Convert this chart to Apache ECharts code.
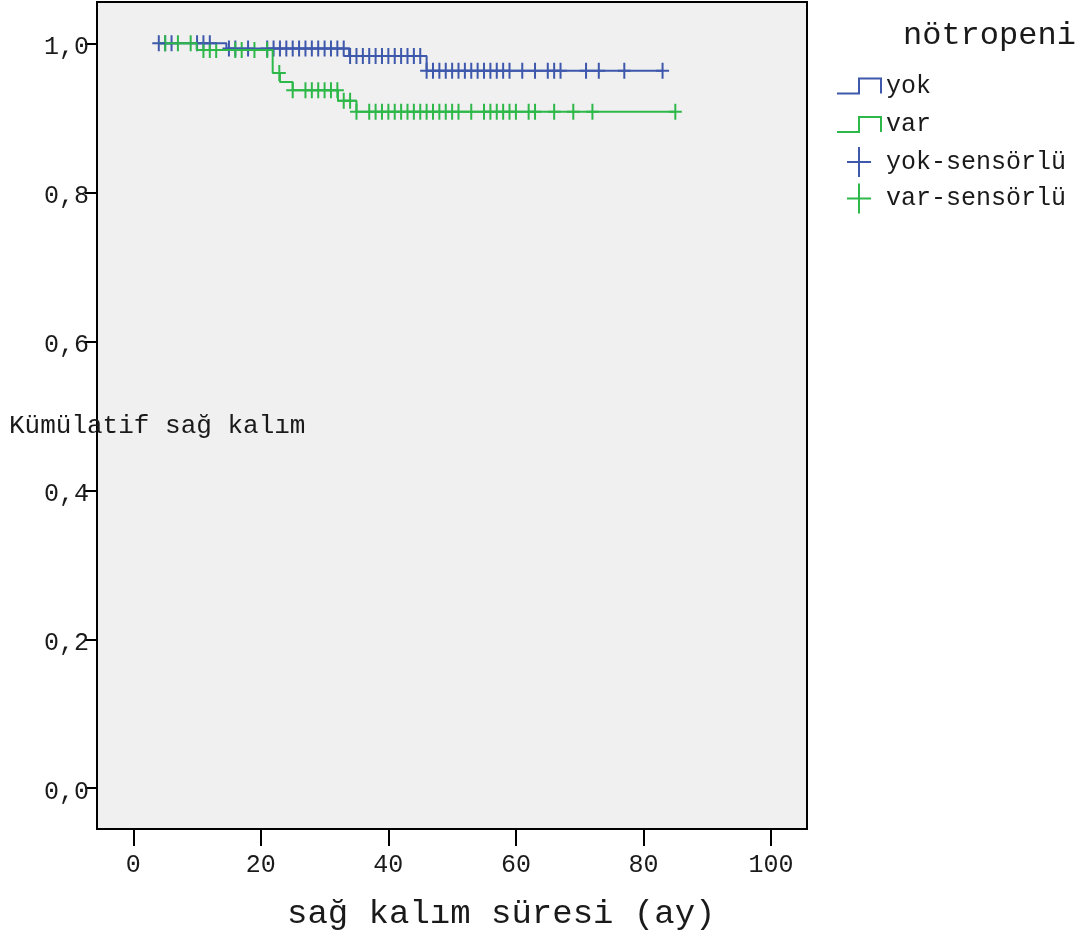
<!DOCTYPE html>
<html>
<head>
<meta charset="utf-8">
<script src="https://cdn.jsdelivr.net/npm/echarts@6.0.0/dist/echarts.min.js"></script>
<style>
html, body { margin: 0; padding: 0; background: #fff; }
#main { width: 1083px; height: 939px; }
</style>
</head>
<body>
<div id="main"></div>
<script>
var groups = ['yok', 'var'];
var censorNames = ['yok-sensörlü', 'var-sensörlü'];
var colors = ['#3e58ac', '#2fb84a'];

// step points of the survival curves: time (months) and cumulative survival
var yokTimes = [4, 14.6, 33.85, 46, 83];
var yokSurv = [1.0, 0.993, 0.983, 0.963, 0.963];
var varTimes = [5, 9.94, 21.86, 23.0, 25.0, 32.1, 35.0, 85];
var varSurv = [1.0, 0.991, 0.960, 0.948, 0.937, 0.923, 0.908, 0.908];

// censored observations (months)
var yokCensored = [4, 5, 6, 10, 11, 12, 15, 16, 18, 21, 22, 23, 24, 25, 26, 27, 28, 29, 30, 31, 32, 33,
  34, 35, 36, 37, 38, 39, 40, 41, 42, 43, 44, 45, 46, 47, 48, 49, 50, 51, 52, 53, 54, 55, 56, 57, 58, 59,
  61, 63, 65, 66, 67, 71, 73, 77, 83];
var varCensored = [5, 7, 9, 11, 12, 13, 16, 17, 19, 21, 22.9, 25, 27, 28, 29, 30, 31, 32, 33, 34, 35,
  37, 38, 39, 40, 41, 42, 43, 44, 45, 46, 47, 48, 49, 50, 51, 53, 55, 56, 57, 58, 59, 60, 62, 63, 66, 69, 72, 85];

var xTicks = [0, 20, 40, 60, 80, 100];
var yTicks = [0, 0.2, 0.4, 0.6, 0.8, 1.0];

var FONT = "'Liberation Mono', 'Courier New', monospace";
// step icon padded with move-to points so its box is as tall as the plus icon
var stepIcon = 'path://M0,-7.5M0,15L22,15L22,0L44,0L44,15M44,22.5';
var plusIcon = 'path://M11,0h2v14h11v2h-11v14h-2v-14h-11v-2h11z';
var markSymbol = 'path://M5.5,0h2v7h5.5v2h-5.5v7h-2v-7h-5.5v-2h5.5z';

function survAt(times, surv, t) {
  var s = surv[0];
  for (var i = 0; i < times.length; i++) {
    if (t >= times[i]) s = surv[i];
  }
  return s;
}

function stepData(times, surv) {
  return times.map(function (t, i) { return [t, surv[i]]; });
}

function censorData(cens, times, surv) {
  return cens.map(function (t) { return [t, survAt(times, surv, t)]; });
}

var chart = echarts.init(document.getElementById('main'));
chart.setOption({
  animation: false,
  backgroundColor: '#fff',
  title: {
    text: 'nötropeni',
    left: 903,
    top: 20,
    padding: 0,
    textStyle: { fontFamily: FONT, fontSize: 32, fontWeight: 'normal', color: '#1a1a1a' }
  },
  legend: {
    orient: 'vertical',
    left: 836,
    top: 70,
    padding: 0,
    itemWidth: 44,
    itemHeight: 30,
    itemGap: 6.5,
    symbolKeepAspect: true,
    textStyle: { fontFamily: FONT, fontSize: 25, color: '#1a1a1a' },
    data: [
      { name: groups[0], icon: stepIcon, itemStyle: { color: 'rgba(0,0,0,0)', borderColor: colors[0], borderWidth: 2 } },
      { name: groups[1], icon: stepIcon, itemStyle: { color: 'rgba(0,0,0,0)', borderColor: colors[1], borderWidth: 2 } },
      { name: censorNames[0], icon: plusIcon },
      { name: censorNames[1], icon: plusIcon }
    ]
  },
  grid: {
    left: 97,
    top: 2,
    width: 710,
    height: 827,
    show: true,
    backgroundColor: '#f0f0f0',
    borderColor: '#000',
    borderWidth: 2
  },
  xAxis: {
    type: 'value',
    min: -5.69,
    max: 105.65,
    axisLine: { show: false, onZero: false },
    splitLine: { show: false },
    axisTick: { show: true, length: 17, customValues: xTicks, lineStyle: { color: '#000', width: 2 } },
    axisLabel: { customValues: xTicks, margin: 24, fontFamily: FONT, fontSize: 25, color: '#1a1a1a' }
  },
  yAxis: {
    type: 'value',
    min: -0.0547,
    max: 1.0554,
    axisLine: { show: false, onZero: false },
    splitLine: { show: false },
    axisTick: { show: true, length: 12, customValues: yTicks, lineStyle: { color: '#000', width: 2 } },
    axisLabel: {
      customValues: yTicks,
      margin: 8,
      fontFamily: FONT,
      fontSize: 25,
      color: '#1a1a1a',
      formatter: function (v) { return '{v|' + v.toFixed(1).replace('.', ',') + '}'; },
      rich: {
        v: { fontFamily: FONT, fontSize: 25, color: '#1a1a1a', lineHeight: 33, verticalAlign: 'bottom' }
      }
    }
  },
  graphic: [
    {
      type: 'text', left: 9, top: 413, z: 100,
      style: { text: 'Kümülatif sağ kalım', font: '26px ' + FONT, fill: '#1a1a1a' }
    },
    {
      type: 'text', left: 287, top: 897, z: 100,
      style: { text: 'sağ kalım süresi (ay)', font: '34px ' + FONT, fill: '#1a1a1a' }
    }
  ],
  series: [
    {
      name: groups[0], type: 'line', step: 'end', showSymbol: false,
      data: stepData(yokTimes, yokSurv),
      itemStyle: { color: colors[0] },
      lineStyle: { color: colors[0], width: 2 }
    },
    {
      name: groups[1], type: 'line', step: 'end', showSymbol: false,
      data: stepData(varTimes, varSurv),
      itemStyle: { color: colors[1] },
      lineStyle: { color: colors[1], width: 2 }
    },
    {
      name: censorNames[0], type: 'scatter',
      symbol: markSymbol, symbolSize: [13, 16],
      data: censorData(yokCensored, yokTimes, yokSurv),
      itemStyle: { color: colors[0], opacity: 1 }
    },
    {
      name: censorNames[1], type: 'scatter',
      symbol: markSymbol, symbolSize: [13, 16],
      data: censorData(varCensored, varTimes, varSurv),
      itemStyle: { color: colors[1], opacity: 1 }
    }
  ]
});
</script>
</body>
</html>
